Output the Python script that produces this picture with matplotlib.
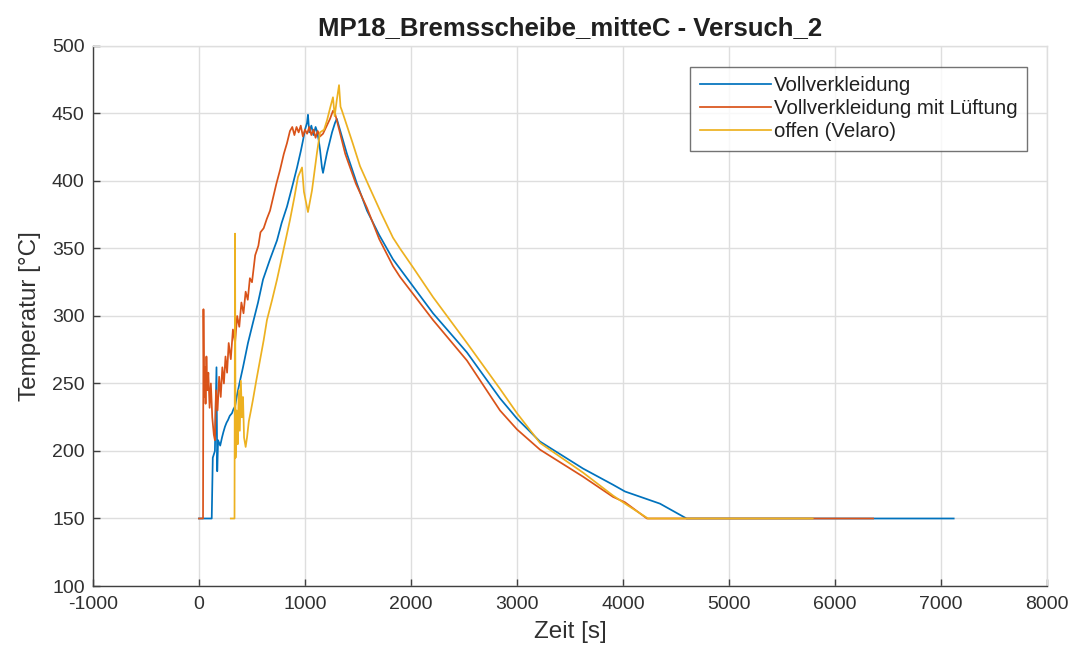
import matplotlib
matplotlib.use("Agg")
import matplotlib.pyplot as plt

# ---- data ----
blue_x = [0, 120, 130, 150, 165, 172, 180, 200, 217, 230, 245, 260, 274, 290, 311, 325, 340, 360,
          387, 415, 462, 509, 557, 604, 670, 736, 780, 830, 880, 925, 960, 981, 1000, 1019, 1028,
          1040, 1060, 1080, 1100, 1113, 1130, 1142, 1160, 1170, 1190, 1208, 1230, 1255, 1283, 1300,
          1396, 1490, 1585, 1700, 1830, 1896, 2208, 2528, 2840, 3000, 3217, 3623, 3906, 4019, 4349,
          4600, 7120]
blue_y = [150, 150, 195, 200, 262, 185, 208, 204, 210, 214, 218, 221, 223, 226, 228, 231, 233, 242,
          252, 262, 280, 295, 310, 327, 342, 356, 369, 381, 396, 410, 422, 430, 438, 443, 449,
          436, 441, 434, 440, 437, 430, 423, 410, 406, 414, 421, 428, 436, 443, 446,
          420, 398, 378, 360, 342, 335, 302, 273, 239, 224, 207, 187, 175, 170, 161,
          150, 150]

orange_x = [0, 38, 42, 48, 55, 62, 70, 78, 88, 100, 112, 125, 140, 150, 160, 175, 190, 205, 220,
            235, 250, 265, 280, 300, 320, 340, 360, 380, 400, 420, 440, 460, 480, 500, 530, 560,
            580, 610, 640, 670, 700, 730, 764, 800, 830, 858, 880, 900, 920, 940, 960, 980, 1000,
            1020, 1040, 1060, 1080, 1100, 1120, 1142, 1170, 1200, 1236, 1264, 1283, 1300, 1380,
            1480, 1585, 1700, 1830, 1896, 2208, 2528, 2840, 3000, 3217, 3623, 3906, 4019, 4226,
            6360]
orange_y = [150, 150, 305, 240, 262, 235, 270, 245, 258, 232, 250, 225, 212, 208, 245, 230, 255,
            240, 262, 250, 270, 258, 280, 268, 290, 280, 300, 292, 310, 302, 318, 312, 328, 325,
            345, 352, 362, 365, 372, 378, 388, 398, 408, 420, 428, 437, 440, 434, 440, 436, 441,
            433, 438, 435, 440, 434, 438, 432, 437, 433, 435, 440, 446, 452, 450, 445, 420,
            398, 380, 357, 337, 329, 297, 267, 230, 216, 201, 181, 166, 162, 150,
            150]

yellow_x = [300, 335, 340, 345, 355, 365, 375, 385, 395, 405, 415, 425, 440, 453, 470, 490, 509,
            540, 575, 610, 641, 690, 736, 800, 858, 900, 934, 972, 990, 1028, 1066, 1113, 1142,
            1180, 1208, 1240, 1264, 1280, 1300, 1321, 1335, 1349, 1450, 1519, 1610, 1720, 1830,
            1896, 2019, 2208, 2528, 2840, 3000, 3217, 3623, 3906, 4019, 4236, 5790]
yellow_y = [150, 150, 361, 195, 230, 205, 245, 215, 252, 225, 240, 210, 203, 210, 222, 230, 238,
            252, 267, 282, 297, 312, 327, 350, 371, 388, 403, 410, 392, 377, 393, 421, 436,
            438, 445, 455, 462, 448, 460, 471, 455, 452, 428, 411, 395, 376, 358,
            350, 336, 314, 280, 246, 228, 206, 184, 167, 161, 150, 150]

series_labels = ["Vollverkleidung", "Vollverkleidung mit Lüftung", "offen (Velaro)"]
x_ticks = [-1000, 0, 1000, 2000, 3000, 4000, 5000, 6000, 7000, 8000]
y_ticks = [100, 150, 200, 250, 300, 350, 400, 450, 500]

# ---- styling ----
plt.rcParams['font.family'] = ['Liberation Sans', 'DejaVu Sans']
plt.rcParams['axes.unicode_minus'] = False
axis_col = '#404040'
grid_col = '#dedede'

fig = plt.figure(figsize=(10.79, 6.53), dpi=100)
ax = fig.add_axes([0.0862, 0.1026, 0.8841, 0.8270])

ax.plot(blue_x, blue_y, color='#0072BD', lw=1.25, label=series_labels[0])
ax.plot(orange_x, orange_y, color='#D95319', lw=1.25, label=series_labels[1])
ax.plot(yellow_x, yellow_y, color='#EDB120', lw=1.25, label=series_labels[2])

ax.set_xlim(-1000, 8000)
ax.set_ylim(100, 500)
ax.set_xticks(x_ticks)
ax.set_yticks(y_ticks)
ax.grid(True, color=grid_col, lw=1.0)
ax.set_axisbelow(True)

for s in ['left', 'bottom']:
    ax.spines[s].set_color(axis_col)
    ax.spines[s].set_linewidth(1.0)
for s in ['top', 'right']:
    ax.spines[s].set_color(grid_col)
    ax.spines[s].set_linewidth(1.0)

ax.tick_params(axis='both', direction='in', length=5, width=1.0, colors=axis_col,
               labelsize=14, labelcolor='#303030')
ax.tick_params(axis='x', pad=7)
ax.tick_params(axis='y', pad=6)

ax.set_title("MP18_Bremsscheibe_mitteC - Versuch_2", fontsize=18.5, fontweight='bold',
             color='#202020', pad=8)
ax.set_xlabel("Zeit [s]", fontsize=17.5, color='#303030', labelpad=6)
ax.set_ylabel("Temperatur [°C]", fontsize=17.5, color='#303030', labelpad=8)

leg = ax.legend(loc='upper right', bbox_to_anchor=(0.979, 0.961), fontsize=14.7,
                handlelength=3.5, handletextpad=0.15, borderpad=0.45, labelspacing=0.2,
                frameon=True, fancybox=False, borderaxespad=0.0)
leg.get_frame().set_edgecolor('#505050')
leg.get_frame().set_linewidth(1.0)
for t in leg.get_texts():
    t.set_color('#202020')

fig.savefig("out.png", dpi=100)
